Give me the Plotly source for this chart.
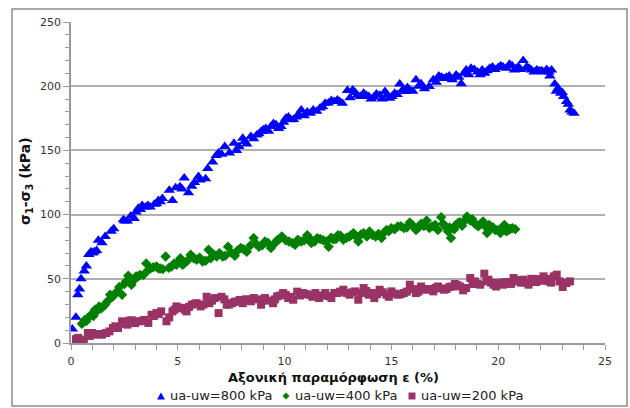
import plotly.graph_objects as go

# Axial strain (%) and deviator stress sigma1-sigma3 (kPa) for three suction levels
eps_800 = [0.06, 0.23, 0.32, 0.40, 0.47, 0.62, 0.72, 0.83, 0.94, 1.09, 1.28, 1.45, 1.60, 1.88, 2.00,
           2.45, 2.64, 2.80, 2.96, 3.05, 3.15, 3.33, 3.50, 3.70, 3.90, 4.09, 4.28, 4.60, 4.75, 4.90,
           5.10, 5.30, 5.50, 5.65, 5.78, 5.97, 6.30, 6.40, 6.63, 6.91, 7.20, 7.42, 7.63, 7.86, 8.04,
           8.23, 8.42, 8.70, 8.90, 9.12, 9.36, 9.60, 9.83, 10.06, 10.30, 10.55, 10.78, 11.06, 11.34,
           11.66, 11.90, 12.19, 12.47, 12.70, 12.94, 13.19, 13.41, 13.70, 13.94, 14.17, 14.45, 14.70,
           14.92, 15.15, 15.39, 15.64, 15.86, 16.15, 16.39, 16.77, 16.96, 17.22, 17.46, 17.71, 18.03,
           18.27, 18.50, 18.73, 19.03, 19.25, 19.48, 19.73, 20.00, 20.23, 20.53, 20.76, 20.95, 21.17,
           21.33, 21.55, 21.80, 22.04, 22.27, 22.50, 22.42, 22.65, 22.80, 22.93, 23.06, 23.20, 23.36,
           23.55,
           1.02, 1.20, 2.52, 3.25, 3.60, 4.00, 4.18, 5.20, 6.05, 6.80, 7.05, 7.75, 8.13, 8.55, 8.80,
           9.00, 9.25, 9.48, 9.72, 9.95, 10.18, 10.42, 10.66, 10.92, 11.20, 11.50, 11.78, 12.05,
           12.33, 12.58, 13.06, 13.30, 13.55, 13.82, 14.05, 14.30, 14.57, 14.80, 15.03, 15.27, 15.52,
           15.75, 16.00, 16.27, 16.55, 17.10, 17.35, 17.58, 17.85, 18.15, 18.40, 18.62, 18.88, 19.15,
           19.37, 19.60, 19.85, 20.12, 20.38, 20.65, 20.85, 21.05, 21.45, 21.68, 21.92, 22.15, 22.38,
           22.72, 23.00, 23.28, 23.45]
dev_800 = [10.9, 20.0, 37.6, 42.0, 50.0, 56.0, 60.0, 69.0, 71.0, 71.0, 80.0, 78.0, 83.0, 87.0, 89.0,
           96.0, 95.0, 99.0, 97.0, 102.0, 105.0, 107.0, 106.0, 106.0, 108.0, 111.0, 112.5, 119.0, 111.0, 121.0,
           121.6, 128.6, 117.0, 122.0, 125.0, 129.7, 128.0, 136.0, 141.0, 148.0, 153.0, 148.0, 155.6, 153.0, 159.5,
           155.0, 160.8, 162.0, 164.7, 167.0, 168.6, 170.0, 168.6, 175.0, 173.8, 176.0, 181.5, 180.0, 181.5,
           183.0, 186.7, 188.8, 189.3, 186.7, 196.6, 197.0, 193.0, 194.5, 192.0, 191.4, 193.0, 195.8,
           190.6, 194.5, 201.8, 195.8, 197.0, 205.0, 202.0, 199.7, 205.0, 208.0, 206.0, 208.0, 208.8,
           202.0, 212.7, 214.0, 211.0, 212.7, 212.0, 215.0, 214.5, 215.0, 217.0, 212.7, 215.0, 220.0,
           215.0, 212.7, 212.7, 212.0, 213.0, 212.7, 208.0, 201.8, 198.4, 194.5, 192.0, 188.0, 181.5,
           179.0,
           70.0, 72.0, 95.0, 104.0, 107.0, 108.5, 110.0, 120.0, 127.0, 146.0, 147.0, 150.0, 157.0, 159.0, 163.0,
           166.0, 165.0, 171.0, 167.0, 172.0, 176.0, 174.0, 178.0, 177.0, 179.0, 180.5, 184.0, 187.0,
           188.0, 188.0, 191.0, 195.0, 192.0, 193.0, 190.0, 194.0, 190.0, 193.0, 192.0, 193.5, 197.0,
           199.0, 196.0, 200.0, 198.0, 203.0, 207.0, 207.0, 205.0, 207.0, 210.0, 209.0, 213.0, 209.0,
           210.0, 214.0, 213.0, 216.0, 214.0, 216.0, 214.0, 213.0, 214.0, 211.0, 212.0, 211.0, 211.0,
           196.0, 195.0, 186.0, 180.0]

eps_400 = [0.51, 0.64, 0.79, 0.94, 1.13, 1.32, 1.51, 1.70, 1.83, 2.07, 2.26, 2.39, 2.58, 2.68, 2.83,
           3.05, 3.24, 3.39, 3.52, 3.71, 4.00, 4.18, 4.43, 4.71, 4.94, 5.12, 5.31, 5.60, 5.88, 6.16,
           6.44, 6.54, 6.82, 7.10, 7.35, 7.67, 7.95, 8.23, 8.55, 8.80, 9.08, 9.36, 9.65, 9.87, 10.20,
           10.49, 10.78, 11.06, 11.25, 11.53, 11.81, 12.06, 12.28, 12.50, 12.75, 13.04, 13.22, 13.45,
           13.70, 13.98, 14.26, 14.54, 14.77, 15.00, 15.30, 15.58, 15.86, 16.15, 16.39, 16.65, 16.90,
           17.18, 17.33, 17.52, 17.65, 17.79, 17.94, 18.12, 18.31, 18.54, 18.69, 18.88, 19.07, 19.29,
           19.48, 19.67, 19.86, 20.10, 20.29, 20.48, 20.67, 20.80,
           0.72, 1.05, 1.22, 1.42, 1.60, 1.95, 2.15, 2.50, 2.95, 3.15, 3.62, 3.85, 4.10, 4.30, 4.58,
           4.83, 5.02, 5.22, 5.45, 5.75, 6.02, 6.30, 6.68, 6.95, 7.22, 7.50, 7.80, 8.08, 8.40, 8.68,
           8.95, 9.22, 9.50, 9.76, 10.05, 10.35, 10.62, 10.92, 11.15, 11.40, 11.67, 11.95, 12.18,
           12.40, 12.62, 12.90, 13.12, 13.35, 13.58, 13.85, 14.12, 14.40, 14.66, 14.88, 15.15, 15.44,
           15.72, 16.00, 16.27, 16.52, 16.78, 17.05, 17.42, 17.72, 18.02, 18.22, 18.42, 18.78, 18.97,
           19.18, 19.38, 19.58, 19.76, 19.98, 20.20, 20.38, 20.58]
dev_400 = [15.0, 18.0, 19.5, 22.0, 26.0, 28.5, 28.5, 32.4, 37.6, 38.4, 43.6, 37.6, 48.0, 52.4, 45.4,
           51.9, 53.0, 53.0, 62.0, 58.0, 59.6, 58.0, 67.4, 59.6, 61.0, 66.0, 62.0, 68.7, 64.8, 63.5,
           72.6, 66.0, 67.4, 67.4, 75.0, 68.0, 74.0, 71.0, 81.7, 75.0, 79.0, 74.0, 80.0, 83.0, 79.0,
           76.5, 79.0, 84.0, 77.8, 81.7, 80.0, 75.0, 80.7, 84.0, 80.4, 83.0, 85.6, 79.0,
           85.6, 86.9, 83.0, 81.7, 88.0, 89.5, 90.8, 89.5, 93.9, 88.0, 92.9, 95.4, 90.8,
           88.0, 98.0, 90.8, 86.9, 81.7, 88.6, 93.4, 91.3, 98.5, 95.4, 93.4, 90.8, 94.6,
           85.6, 89.5, 88.0, 85.6, 92.0, 88.0, 89.5, 88.6,
           17.0, 21.0, 25.0, 27.0, 30.0, 36.0, 40.0, 46.0, 49.0, 52.0, 57.0, 59.0, 58.0, 57.5, 58.5,
           62.0, 63.0, 61.0, 64.0, 66.0, 66.5, 64.0, 69.0, 70.0, 68.0, 70.5, 72.0, 73.0, 76.0, 77.0,
           76.0, 78.0, 77.0, 81.0, 80.0, 78.0, 80.5, 80.0, 82.0, 79.0, 81.0, 79.0, 82.0,
           81.0, 83.5, 82.0, 84.0, 83.0, 84.5, 83.0, 84.0, 85.0, 86.0, 87.0, 88.5, 91.0,
           90.0, 91.5, 90.0, 91.0, 89.5, 92.0, 93.0, 90.0, 92.0, 94.0, 95.0, 96.5, 92.0,
           93.0, 91.0, 92.0, 90.0, 88.0, 90.0, 87.0, 89.0]

eps_200 = [0.23, 0.41, 0.60, 0.79, 0.98, 1.17, 1.45, 1.64, 1.96, 2.20, 2.39, 2.64, 2.86, 3.15, 3.43,
           3.62, 3.77, 4.00, 4.22, 4.47, 4.75, 4.94, 5.22, 5.41, 5.65, 5.88, 6.07, 6.35, 6.48, 6.73,
           6.91, 7.05, 7.29, 7.54, 7.76, 8.04, 8.29, 8.55, 8.90, 9.08, 9.46, 9.65, 9.93, 10.17, 10.40,
           10.59, 10.87, 11.15, 11.44, 11.62, 11.90, 12.19, 12.47, 12.75, 13.04, 13.30, 13.45, 13.70,
           13.94, 14.20, 14.45, 14.77, 15.00, 15.30, 15.58, 15.86, 16.15, 16.39, 16.65, 16.96, 17.18,
           17.46, 17.71, 17.97, 18.22, 18.50, 18.69, 18.90, 19.16, 19.35, 19.54, 19.78, 20.00, 20.23,
           20.48, 20.72, 20.95, 21.17, 21.42, 21.67, 21.89, 22.12, 22.36, 22.61, 22.74, 22.87, 23.02,
           23.20, 23.36,
           0.33, 0.52, 0.88, 1.30, 1.80, 2.08, 2.52, 2.75, 3.00, 3.30, 3.88, 4.10, 4.60, 4.85, 5.08,
           5.32, 5.52, 5.78, 6.20, 6.60, 7.18, 7.40, 7.65, 7.90, 8.18, 8.42, 8.72, 9.25, 9.55, 9.80,
           10.05, 10.28, 10.72, 11.00, 11.30, 11.75, 12.05, 12.33, 12.60, 12.90, 13.18, 13.58, 13.82,
           14.08, 14.33, 14.60, 14.88, 15.15, 15.44, 15.72, 16.02, 16.27, 16.52, 16.80, 17.07, 17.32,
           17.58, 17.84, 18.10, 18.36, 18.80, 19.03, 19.45, 19.66, 19.90, 20.12, 20.36, 20.60, 20.84,
           21.06, 21.30, 21.55, 21.78, 22.00, 22.24, 22.48, 23.12]
dev_200 = [3.0, 2.6, 1.3, 7.8, 7.8, 6.5, 6.5, 7.8, 11.7, 11.7, 16.9, 14.3, 17.6, 16.9, 18.0,
           15.6, 22.0, 23.3, 24.6, 16.9, 24.6, 28.5, 27.2, 24.6, 29.8, 31.0, 28.5, 36.0, 31.0, 35.0,
           23.3, 36.0, 29.8, 31.0, 32.4, 31.0, 33.7, 35.0, 29.8, 35.0, 31.0, 36.3, 38.9, 35.0, 33.7,
           40.0, 38.9, 37.6, 38.9, 35.0, 38.9, 35.0, 38.9, 41.5, 37.6, 40.2, 33.7, 42.8,
           37.6, 35.0, 41.5, 37.6, 40.2, 37.6, 38.9, 45.4, 38.9, 44.0, 41.5, 40.2, 44.0,
           41.5, 43.6, 46.0, 44.0, 42.8, 50.6, 48.0, 45.4, 54.0, 49.3, 45.4, 46.7, 45.4,
           46.7, 50.6, 48.0, 49.3, 45.4, 48.0, 49.8, 51.9, 48.0, 51.9, 53.2, 48.0, 43.6,
           46.7, 48.0,
           4.0, 2.0, 5.5, 7.0, 9.0, 13.0, 15.0, 17.5, 15.5, 17.0, 21.0, 22.5, 20.0, 26.0, 27.5,
           26.0, 28.0, 30.5, 30.0, 33.0, 34.0, 30.0, 32.0, 33.5, 34.0, 32.5, 34.0, 33.0, 34.0, 37.0,
           37.5, 36.0, 37.0, 38.0, 36.0, 37.0, 36.5, 39.0, 40.0, 39.0, 39.5, 39.0, 40.5,
           39.0, 38.0, 39.5, 36.0, 38.5, 38.0, 40.0, 42.0, 40.0, 42.0, 42.0, 43.0, 42.5,
           42.0, 44.0, 45.0, 41.0, 46.0, 46.0, 48.0, 47.0, 44.0, 47.0, 47.5, 46.0, 49.0,
           47.0, 47.0, 50.0, 47.5, 48.5, 50.0, 47.0, 47.0]

series_names = ["ua-uw=800 kPa", "ua-uw=400 kPa", "ua-uw=200 kPa"]
series_x = [eps_800, eps_400, eps_200]
series_y = [dev_800, dev_400, dev_200]
symbols = ["triangle-up", "diamond", "square"]
colors = ["#0000FF", "#008000", "#993366"]
sizes = [10, 8, 8]

# plot-area geometry in pixels (used to place legend keys and titles outside the axes)
W, H = 630, 408
L, R, T, B = 71, 25, 22, 65
PW, PH = W - L - R, H - T - B


def px(x):
    return (x - L) / PW


def py(y):
    return (H - B - y) / PH


fig = go.Figure()
for name, xs, ys, sym, col, sz in zip(series_names, series_x, series_y, symbols, colors, sizes):
    fig.add_trace(go.Scatter(
        x=xs, y=ys, mode="markers", name=name, showlegend=False,
        marker=dict(symbol=sym, color=col, size=sz, line=dict(width=0)),
    ))

# horizontal legend under the x-axis title: small key symbol followed by its label
legend_y = 396
key_x = [161, 286, 412]
shapes = []
annotations = []
for name, col, sym, kx in zip(series_names, colors, symbols, key_x):
    h = 3.5
    if sym == "triangle-up":
        path = (f"M {px(kx - 4)},{py(legend_y + h)} L {px(kx + 4)},{py(legend_y + h)} "
                f"L {px(kx)},{py(legend_y - h)} Z")
    elif sym == "diamond":
        path = (f"M {px(kx - 3.5)},{py(legend_y)} L {px(kx)},{py(legend_y - 3.5)} "
                f"L {px(kx + 3.5)},{py(legend_y)} L {px(kx)},{py(legend_y + 3.5)} Z")
    else:
        path = (f"M {px(kx - 3.5)},{py(legend_y - 3.5)} L {px(kx + 3.5)},{py(legend_y - 3.5)} "
                f"L {px(kx + 3.5)},{py(legend_y + 3.5)} L {px(kx - 3.5)},{py(legend_y + 3.5)} Z")
    shapes.append(dict(type="path", xref="paper", yref="paper", path=path,
                       fillcolor=col, line=dict(width=0)))
    annotations.append(dict(text=name, xref="paper", yref="paper",
                            x=px(kx + 7), y=py(legend_y), xanchor="left", yanchor="middle",
                            showarrow=False,
                            font=dict(family="DejaVu Sans", size=13, color="#222222")))

# axis titles
annotations.append(dict(text="<b>Αξονική παραμόρφωση ε (%)</b>", xref="paper", yref="paper",
                        x=px(333), y=py(378), xanchor="center", yanchor="middle", showarrow=False,
                        font=dict(family="DejaVu Sans", size=13, color="#111111")))
annotations.append(dict(text="<b>σ<sub>1</sub>-σ<sub>3</sub> (kPa)</b>", xref="paper", yref="paper",
                        x=px(26), y=py(181), xanchor="center", yanchor="middle", showarrow=False,
                        textangle=-90,
                        font=dict(family="DejaVu Sans", size=14, color="#111111")))

# outer chart frame
shapes.append(dict(type="rect", xref="paper", yref="paper",
                   x0=px(12), x1=px(627), y0=py(406), y1=py(9),
                   line=dict(color="#8c8c8c", width=1.5), fillcolor="rgba(0,0,0,0)", layer="below"))

axis_font = dict(family="DejaVu Sans", size=11, color="#333333")

fig.update_layout(
    width=W, height=H,
    margin=dict(l=L, r=R, t=T, b=B, autoexpand=False),
    paper_bgcolor="white", plot_bgcolor="white",
    font=dict(family="DejaVu Sans", color="#222222"),
    showlegend=False,
    xaxis=dict(range=[0, 25], dtick=5, tick0=0, showgrid=False, zeroline=False, automargin=False,
               showline=True, linecolor="#9a9a9a", linewidth=1.5,
               ticks="outside", ticklen=5, tickcolor="#9a9a9a", tickwidth=1, ticklabelstandoff=2,
               minor=dict(dtick=1, ticks="outside", ticklen=5, tickcolor="#9a9a9a", showgrid=False),
               tickfont=axis_font),
    yaxis=dict(range=[0, 250], dtick=50, tick0=0, showgrid=True, gridcolor="#b0b0b0", gridwidth=1.5,
               zeroline=False, showline=True, linecolor="#9a9a9a", linewidth=1.5, automargin=False,
               ticks="outside", ticklen=6, tickcolor="#9a9a9a", tickwidth=1,
               minor=dict(dtick=10, ticks="outside", ticklen=4, tickcolor="#9a9a9a", showgrid=False),
               tickfont=axis_font),
    shapes=shapes,
    annotations=annotations,
)

fig.write_html("out.html")
